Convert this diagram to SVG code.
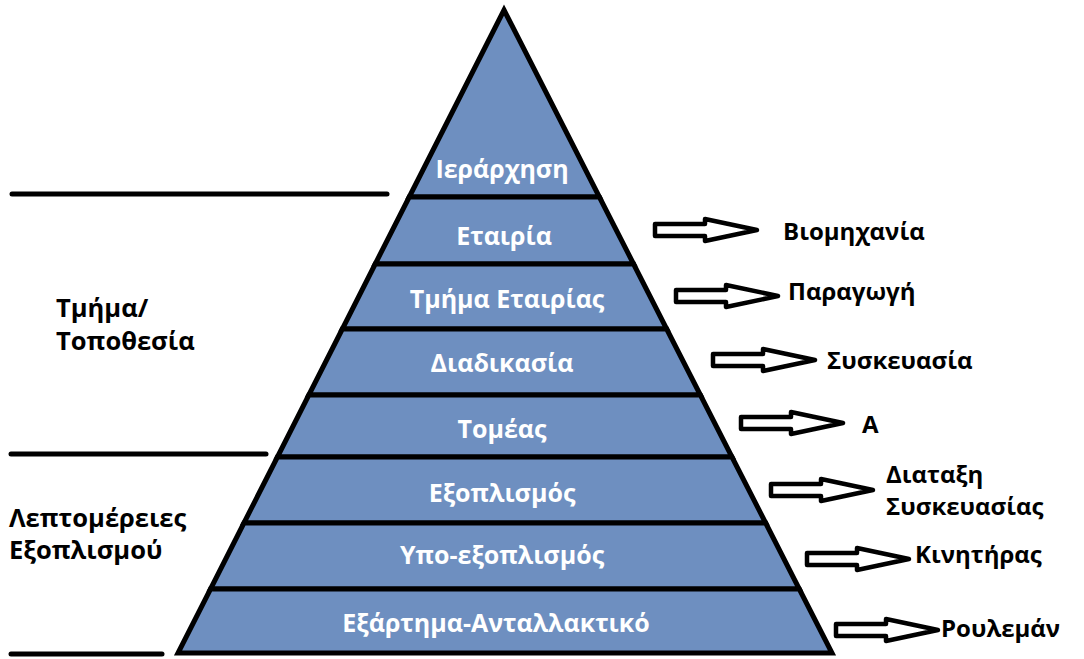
<svg xmlns="http://www.w3.org/2000/svg" width="1084" height="659" viewBox="0 0 1084 659">
<style>
.layer{fill:#6e8fc0;stroke:#000;stroke-width:5;stroke-linejoin:miter}
.lt{font-family:"Open Sans","Noto Sans","DejaVu Sans",sans-serif;font-weight:700;font-size:25px;fill:#fff;text-anchor:middle}
.rt{font-family:"Open Sans","Noto Sans","DejaVu Sans",sans-serif;font-weight:700;font-size:24px;fill:#000}
.rl{font-family:"Open Sans","Noto Sans","DejaVu Sans",sans-serif;font-weight:700;font-size:25.5px;fill:#000}
.sep{stroke:#000;stroke-width:5;stroke-linecap:round}
.arr{fill:#fff;stroke:#000;stroke-width:4.5;stroke-linejoin:round}
</style>
<defs>
<path id="arrow" class="arr" d="M0,-6 H50 V-11 L102,0 L50,11 V6 H0 Z"/>
</defs>
<rect width="1084" height="659" fill="#fff"/>
<g id="pyramid">
<g id="layer-ierarchisi"><polygon class="layer" points="504,10 599.4,197 409.2,197"/><text class="lt" x="502" y="178">Ιεράρχηση</text></g>
<g id="layer-etairia"><polygon class="layer" points="409.2,197 599.4,197 633.6,264 375.2,264"/><text class="lt" x="504" y="245">Εταιρία</text></g>
<g id="layer-tmima"><polygon class="layer" points="375.2,264 633.6,264 666.7,329 342.3,329"/><text class="lt" x="507" y="308">Τμήμα Εταιρίας</text></g>
<g id="layer-diadikasia"><polygon class="layer" points="342.3,329 666.7,329 700.4,395 308.8,395"/><text class="lt" x="502" y="372">Διαδικασία</text></g>
<g id="layer-tomeas"><polygon class="layer" points="308.8,395 700.4,395 732,457 277.4,457"/><text class="lt" x="502" y="438">Τομέας</text></g>
<g id="layer-exoplismos"><polygon class="layer" points="277.4,457 732,457 765.7,523 243.9,523"/><text class="lt" x="502" y="502">Εξοπλισμός</text></g>
<g id="layer-ypo"><polygon class="layer" points="243.9,523 765.7,523 799.3,589 210.5,589"/><text class="lt" x="502" y="564">Υπο-εξοπλισμός</text></g>
<g id="layer-exartima"><polygon class="layer" points="210.5,589 799.3,589 832,653 178,653"/><text class="lt" x="496" y="632">Εξάρτημα-Ανταλλακτικό</text></g>
</g>
<g id="left-groups">
<line class="sep" x1="12" y1="194" x2="387" y2="194"/>
<line class="sep" x1="11" y1="454" x2="266" y2="454"/>
<line class="sep" x1="11" y1="654" x2="162" y2="654"/>
<text class="rl" x="56" y="317">Τμήμα/</text>
<text class="rl" x="56" y="350">Τοποθεσία</text>
<text class="rl" x="9" y="527">Λεπτομέρειες</text>
<text class="rl" x="9" y="559">Εξοπλισμού</text>
</g>
<g id="connectors">
<use href="#arrow" x="655" y="230"/>
<use href="#arrow" x="676" y="296"/>
<use href="#arrow" x="713" y="360"/>
<use href="#arrow" x="741" y="423"/>
<use href="#arrow" x="771" y="490"/>
<use href="#arrow" x="807" y="559"/>
<use href="#arrow" x="836" y="630"/>
</g>
<g id="labels">
<text class="rt" x="783" y="240">Βιομηχανία</text>
<text class="rt" x="788" y="300">Παραγωγή</text>
<text class="rt" x="827" y="369">Συσκευασία</text>
<text class="rt" x="862" y="433">Α</text>
<text class="rt" x="886" y="483">Διαταξη</text>
<text class="rt" x="886" y="515">Συσκευασίας</text>
<text class="rt" x="915" y="563">Κινητήρας</text>
<text class="rt" x="941" y="637">Ρουλεμάν</text>
</g>
</svg>
